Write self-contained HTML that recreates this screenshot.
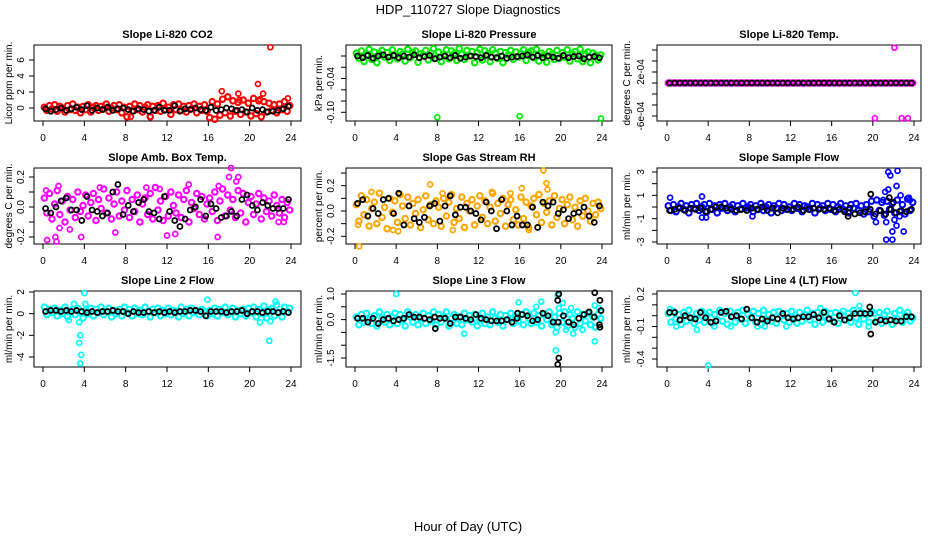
<!DOCTYPE html>
<html><head><meta charset="utf-8"><style>
html,body{margin:0;padding:0;background:#fff;}
svg{display:block;font-family:"Liberation Sans",sans-serif;}
</style></head><body>
<svg id="chart" width="936" height="540" viewBox="0 0 936 540">
<text x="468" y="14" text-anchor="middle" font-size="13">HDP_110727  Slope Diagnostics</text>
<text x="468" y="531" text-anchor="middle" font-size="13">Hour of Day (UTC)</text>
</svg>
<script>
// ---- data ----
const xTicks=[0,4,8,12,16,20,24];
const p1Color=[0.1,-0.3,0.3,-0.1,0.4,-0.4,0.2,0,-0.5,0.3,-0.2,0.5,-0.3,0.1,-0.6,0.2,
-0.2,0.4,-0.5,0.1,0.3,-0.3,0.2,-0.1,0.5,-0.4,0,0.3,-0.2,0.4,-0.6,0.1,
-1.1,0.2,-0.4,0.5,-0.2,0.3,-0.5,0.1,0.4,-1.1,0.2,-0.3,0.3,-0.4,0.6,-0.2,
0.1,-0.8,0.4,-0.2,0.5,-0.3,0.2,-0.5,0.3,-0.1,0.5,-0.6,0.2,-0.3,0.4,-0.4,
-1.2,0.8,-1.4,0.5,-0.9,1.1,-0.6,1.4,-1.0,0.9,-0.4,0.7,-0.8,1.0,-0.5,0.6,
-1.0,1.2,-0.7,0.9,-1.1,0.8,-0.5,0.6,-0.3,0.4,-0.6,0.5,-0.2,0.8,-0.4,0.3];
const p1Black=[-0.1,-0.4,-0.2,0,-0.3,-0.1,0.1,-0.2,0.3,-0.3,0,-0.2,0.1,-0.3,-0.1,0,-0.2,-0.4,-0.1,-0.2,-0.4,-0.3,0.1,-0.3,-0.3,0.3,-0.4,-0.1,-0.2,0,-0.2,-0.3,0.1,-0.3,-0.2,0,-0.1,-0.3,-0.2,-0.5,0,-0.3,-0.2,-0.5,-0.4,-0.3,-0.1,0.2];
const p1OutX=[17.3,17.9,18.9,19.0,20.8,21.0,21.3,22.0,23.7,8.5,10.4];
const p1OutY=[2.1,1.4,1.8,1.0,3.0,1.1,1.8,7.6,1.2,-1.1,-1.1];

const p2Color=[0.005,-0.004,0.009,-0.010,0.002,0.012,-0.006,0.007,-0.012,0.004,0.010,-0.002,0.006,-0.008,0.011,0.001,
-0.005,0.008,0.003,-0.009,0.012,-0.003,0.006,0.009,-0.011,0.004,0.001,0.010,-0.007,0.005,0.013,-0.004,
0.007,-0.010,0.002,0.011,-0.005,0.009,0.004,-0.008,0.013,0.003,-0.006,0.010,0.000,0.008,-0.012,0.006,
0.012,-0.007,0.009,0.003,-0.010,0.011,0.005,-0.004,0.008,-0.012,0.006,0.002,0.010,-0.006,0.007,-0.002,
0.004,0.011,-0.008,0.006,0.009,-0.003,0.012,-0.009,0.005,0.002,-0.011,0.008,0.003,-0.006,0.010,-0.004,
0.006,-0.002,0.011,-0.009,0.004,0.008,-0.005,0.012,-0.010,0.003,0.007,-0.012,0.005,0.001,-0.007,0.002];
const p2Black=[0.000,-0.003,0.001,-0.004,0.000,0.002,-0.002,0.001,-0.003,0.000,-0.002,0.002,-0.003,-0.001,0.001,-0.005,-0.002,0.000,-0.003,0.001,-0.004,-0.002,0.000,-0.001,-0.003,0.001,-0.002,-0.003,0.000,-0.004,-0.002,-0.001,0.000,0.002,-0.002,0.001,-0.003,0.000,-0.002,-0.004,0.001,-0.003,-0.001,0.000,-0.005,-0.002,-0.001,-0.003];
const p2OutX=[8.0,16.0,23.9];
const p2OutY=[-0.109,-0.107,-0.111];

const p3Color=[0,0,0,0,0,0,0,0,0,0,0,0,0,0,0,0,0,0,0,0,0,0,0,0,0,0,0,0,0,0,0,0,0,0,0,0,0,0,0,0,0,0,0,0,0,0,0,0,
0,0,0,0,0,0,0,0,0,0,0,0,0,0,0,0,0,0,0,0,0,0,0,0,0,0,0,0,0,0,0,0,0,0,0,0,0,0,0,0,0,0,0,0,0,0,0,0];
const p3Black=[0,0,0,0,0,0,0,0,0,0,0,0,0,0,0,0,0,0,0,0,0,0,0,0,0,0,0,0,0,0,0,0,0,0,0,0,0,0,0,0,0,0,0,0,0,0,0,0];
const p3OutX=[22.1,20.2,22.8,23.4];
const p3OutY=[0.00064,-0.00064,-0.00064,-0.00064];

const p4Color=[0.06,-0.04,0.09,-0.08,0.02,0.11,-0.05,0.04,-0.10,0.07,-0.02,0.05,-0.07,0.10,-0.03,0.01,
0.08,-0.06,0.03,0.09,-0.09,0.05,-0.01,0.12,-0.04,0.06,-0.08,0.02,0.10,-0.06,0.04,-0.02,
0.11,-0.07,0.05,-0.03,0.08,-0.10,0.02,0.06,-0.05,0.09,-0.08,0.13,-0.02,0.04,-0.09,0.07,
-0.06,0.10,0.01,-0.04,0.08,-0.07,0.05,0.11,-0.10,0.03,-0.01,0.09,-0.05,0.07,-0.08,0.02,
0.06,-0.03,0.10,-0.09,0.04,0.12,-0.06,0.08,-0.02,0.05,-0.07,0.11,-0.04,0.09,-0.10,0.03,
0.07,-0.05,0.02,0.09,-0.08,0.06,-0.03,0.04,-0.06,0.08,0.01,-0.04,0.05,-0.07,0.03,-0.02];
const p4Black=[-0.01,-0.04,0.00,0.04,0.06,-0.02,-0.02,-0.09,0.07,-0.02,-0.03,-0.06,-0.04,0.10,0.15,-0.05,0.01,-0.03,0.03,0.05,-0.03,-0.04,-0.08,0.07,-0.03,-0.09,-0.13,-0.08,-0.02,0.00,0.05,-0.06,0.02,-0.01,-0.07,-0.06,-0.03,-0.06,0.05,0.08,0.01,-0.02,0.03,0.01,-0.01,-0.01,-0.01,0.05];
const p4OutX=[0.4,1.3,1.6,1.2,0.3,2.6,3.7,1.5,5.5,7.0,11.3,12.0,12.8,16.9,17.0,18.0,18.2,18.7,18.9,22.8,10.0,14.1,23.3];
const p4OutY=[-0.22,-0.23,-0.14,-0.20,0.11,-0.15,-0.20,0.14,0.13,-0.17,0.12,-0.19,-0.18,-0.20,0.14,0.20,0.26,0.17,0.20,-0.10,0.13,0.15,-0.10];

const p5Color=[0.05,-0.08,0.12,-0.03,0.09,-0.12,0.02,0.07,-0.10,0.14,-0.05,0.03,-0.14,0.10,-0.01,0.08,
-0.09,0.13,0.04,-0.06,0.11,-0.11,0.06,-0.02,0.09,-0.13,0.01,0.12,-0.07,0.05,-0.10,0.08,
0.03,-0.12,0.10,-0.04,0.07,0.13,-0.09,0.02,-0.06,0.11,-0.13,0.06,0.00,0.09,-0.11,0.04,
0.12,-0.05,0.08,-0.10,0.03,0.14,-0.08,0.06,-0.02,0.10,-0.12,0.05,0.09,-0.07,0.01,-0.11,
0.11,-0.06,0.07,-0.13,0.04,0.10,-0.03,0.13,-0.09,0.06,-0.01,0.08,-0.11,0.12,-0.05,0.02,
0.09,-0.10,0.05,0.11,-0.07,0.03,-0.12,0.08,-0.04,0.10,0.00,-0.08,0.06,-0.03,0.07,0.02];
const p5Black=[0.06,0.09,-0.04,0.02,-0.02,0.09,0.10,-0.02,0.14,-0.11,0.04,-0.06,-0.09,-0.05,0.04,0.06,-0.08,0.04,0.12,-0.03,0.03,0.03,0.00,-0.02,-0.07,0.07,0.00,-0.14,0.09,0.00,-0.11,-0.04,-0.11,-0.11,0.03,-0.13,0.07,0.04,0.07,-0.02,0.01,-0.06,-0.02,-0.01,0.03,-0.04,-0.09,0.04];
const p5OutX=[0.4,0.3,1.6,3.7,4.2,7.3,8.5,9.5,16.2,16.9,18.3,18.6,18.7,13.3,15.1];
const p5OutY=[-0.28,-0.11,0.15,-0.15,-0.16,0.21,0.14,-0.15,0.18,-0.15,0.32,0.22,0.17,0.15,0.14];

const p6Color=[0.1,-0.3,0.2,-0.4,0,0.3,-0.2,0.1,-0.5,0.2,-0.1,0.3,-0.3,0,0.2,-0.4,
0.3,-0.2,0.1,-0.5,0.2,-0.1,0.3,-0.3,0,0.2,-0.4,0.1,-0.2,0.3,-0.1,0,
0.2,-0.4,0.1,-0.2,0.3,-0.3,0,0.2,-0.5,0.1,-0.1,0.3,-0.3,0.2,-0.2,0,
-0.3,0.3,-0.1,0.2,-0.4,0.1,0,-0.2,0.3,-0.5,0.2,-0.1,0.1,-0.3,0.3,-0.2,
0.2,-0.4,0,0.3,-0.2,0.1,-0.5,0.2,-0.1,0.3,-0.3,0.1,-0.6,0.2,-0.4,0.5,
-0.8,0.6,-0.3,0.4,-0.7,0.5,-0.2,0.3,-0.5,0.6,-0.4,0.2,-0.6,0.7,-0.3,0.4];
const p6Black=[-0.3,-0.2,-0.1,-0.3,-0.1,-0.2,-0.1,-0.4,-0.2,0,0,-0.1,-0.2,-0.3,-0.2,-0.3,-0.1,-0.2,0,-0.3,-0.1,-0.5,-0.1,-0.2,-0.2,0,-0.3,-0.2,-0.1,-0.2,-0.2,-0.1,-0.3,-0.2,-0.4,-0.1,-0.6,-0.5,-0.4,-0.2,-0.6,-0.3,-0.6,-0.2,-0.5,-0.3,-0.4,-0.2];
const p6OutX=[21.5,21.7,22.4,21.5,22.3,21.2,22.7,20.3,21.3,21.3,21.9,21.9,22.3,23.0,22.1,22.6,23.5,23.6,0.3,3.4,3.4,3.8,8.3,21.0];
const p6OutY=[3.0,2.7,3.1,1.5,1.8,1.3,1.0,-1.3,-1.3,-2.8,-2.8,-2.1,-1.6,-2.1,-1.1,-0.8,0.8,0.6,0.8,0.9,-0.9,-0.9,-0.8,0.6];
const p6BOutX=[19.8,21.6,22.0,17.6];
const p6BOutY=[1.1,0.8,0.4,-0.8];

const p7Color=[0.6,-0.1,0.4,0.1,0.5,-0.2,0.3,0,0.6,-0.3,0.2,0.4,-0.1,0.5,0.1,-0.4,
0.3,0,0.5,-0.2,0.4,0.1,0.6,-0.1,0.2,0.5,-0.3,0.3,0,0.4,-0.2,0.6,
0.1,0.4,-0.2,0.5,0,0.3,-0.1,0.6,0.2,-0.3,0.4,0.1,0.5,-0.2,0.3,0,
0.5,-0.1,0.3,0.2,-0.3,0.6,0,0.4,-0.2,0.5,0.1,0.3,-0.1,0.4,0.2,-0.2,
0.3,0,0.5,-0.2,0.4,0.1,0.6,-0.1,0.2,0.5,-0.3,0.3,0,0.4,-0.2,0.5,
0.1,0.6,-0.3,0.4,0,0.7,-0.4,0.3,0.5,-0.2,0.8,0.1,-0.3,0.6,0.2,0.5];
const p7Black=[0.2,0.3,0.3,0.2,0.3,0.2,0.3,0.2,0.1,0.2,0.1,0.2,0.2,0.3,0.2,0.2,0.0,0.2,0.1,0.1,0.2,0.1,0.2,0.1,0.2,0.1,0.2,0.2,0.3,0.3,0.2,-0.2,0.2,0.2,0.2,0.1,0.2,0.2,0.3,0.0,0.2,0.2,0.1,0.2,0.2,0.1,0.2,0.1];
const p7OutX=[3.5,3.6,3.6,3.7,4.0,4.1,3.5,3.0,2.5,15.9,21.0,21.9,22.5,22.0];
const p7OutY=[-2.7,-2.0,-4.6,-3.8,1.9,0.9,-0.8,0.9,-0.6,1.3,-0.8,-2.5,1.1,-0.7];

const p8Color=[0.1,-0.2,0.2,-0.1,0.25,0,-0.15,0.15,-0.25,0.3,0.05,-0.1,0.2,-0.2,0.1,0.25,
-0.15,0.2,0,-0.25,0.3,0.1,-0.1,0.2,-0.2,0.05,0.25,-0.15,0.15,-0.05,0.3,-0.2,
0.2,-0.1,0.1,0.3,-0.25,0.05,0.2,-0.15,0.1,-0.2,0.25,0,0.15,-0.1,0.2,-0.25,
0,0.25,-0.15,0.1,-0.2,0.3,0.05,-0.1,0.2,-0.25,0.15,0,0.25,-0.15,0.1,-0.05,
0.2,-0.2,0.3,0.05,-0.15,0.25,-0.1,0.15,-0.25,0.2,0,0.3,-0.2,0.1,-0.3,0.25,
-0.1,0.3,-0.25,0.2,0.05,-0.3,0.3,-0.15,0.2,-0.05,0.25,-0.2,0.1,-0.3,0.2,0.05];
const p8Black=[0.05,0.05,-0.1,0.05,-0.15,0,0.05,-0.05,0,0.05,0.2,0.1,0.1,0.05,0,0.1,0.05,0.05,-0.15,0.1,0.1,0.05,0,0.2,0.05,0,-0.05,-0.05,-0.05,0,-0.1,0.05,0.2,0.15,-0.05,0,0.25,0.15,-0.1,-0.1,0.15,-0.1,-0.2,0.05,0.2,0.3,0.1,-0.2];
const p8OutX=[4.0,10.6,15.9,17.6,18.1,19.5,19.5,19.7,19.8,20.2,21.2,21.0,23.3,23.3,23.7,22.1,20.5];
const p8OutY=[1.0,-0.55,0.67,0.5,0.7,-0.5,-1.2,0.95,0.45,0.65,-0.55,0.45,0.55,-0.85,0.45,-0.4,-0.4];
const p8BOutX=[7.8,15.8,19.8,19.7,19.8,19.7,23.3,23.8,23.9,23.8];
const p8BOutY=[-0.35,0.25,1.0,0.75,-1.5,-1.75,1.05,0.75,0.35,-0.3];

const p9Color=[0.02,-0.06,0.04,-0.03,0.01,-0.08,0.03,-0.05,0.05,-0.02,-0.07,0.02,-0.04,0.04,-0.06,0.00,
0.03,-0.07,0.01,-0.04,0.05,-0.05,0.02,-0.08,0.04,-0.01,-0.06,0.03,-0.03,0.05,-0.07,0.01,
-0.02,0.04,-0.06,0.02,-0.08,0.05,-0.03,0.01,-0.05,0.03,-0.07,0.04,0.00,-0.04,0.02,-0.06,
0.04,-0.02,-0.07,0.03,-0.05,0.01,0.05,-0.04,0.02,-0.08,0.03,-0.01,-0.06,0.04,-0.03,0.02,
-0.05,0.03,-0.07,0.01,0.04,-0.04,0.02,-0.06,0.05,-0.02,-0.08,0.03,-0.03,0.01,-0.06,0.04,
0.02,-0.05,0.03,-0.07,0.01,0.04,-0.04,-0.08,0.02,-0.03,0.05,-0.06,0.00,0.03,-0.05,-0.02];
const p9Black=[0.03,0.03,-0.04,0.00,-0.02,-0.03,0.03,-0.02,-0.06,-0.05,0.03,0.04,-0.01,0.00,-0.03,0.06,-0.02,-0.06,-0.03,-0.05,-0.02,-0.03,0.02,-0.02,-0.03,-0.02,-0.01,-0.01,0.01,-0.02,0.03,-0.03,-0.06,0.00,-0.04,-0.02,0.02,0.02,0.02,0.02,-0.06,-0.04,-0.05,-0.04,-0.05,-0.05,-0.01,-0.01];
const p9OutX=[0.3,0.9,2.9,4.0,4.6,6.2,8.8,9.5,11.6,14.9,18.3,18.7,19.6];
const p9OutY=[0.06,-0.1,-0.13,-0.46,-0.1,-0.1,-0.1,-0.1,-0.1,0.07,0.21,0.09,-0.1];
const p9BOutX=[19.7,19.8];
const p9BOutY=[0.08,-0.17];

// ---- layout ----
const NS="http://www.w3.org/2000/svg";
const svg=document.getElementById('chart');
const cols=[{l:34,r:301,x0:43,x24:291,lab:12,tl:24},{l:346,r:612,x0:355,x24:602,lab:322,tl:334},{l:657,r:921,x0:667,x24:914,lab:630,tl:644}];
const rows=[{t:45,b:121},{t:168,b:244},{t:291,b:367}];
const panels=[
 {name:'co2',title:'Slope Li-820 CO2',ylab:'Licor ppm per min.',col:'#ff0000',c:0,r:0,v0:0,p0:108,v1:6,p1:60,ticks:[0,2,4,6],labels:['0','2','4','6'],cy:p1Color,by:p1Black,ox:p1OutX,oy:p1OutY},
 {name:'pressure',title:'Slope Li-820 Pressure',ylab:'kPa per min.',col:'#00ee00',c:1,r:0,v0:0,p0:56,v1:-0.10,p1:112.3,ticks:[0,-0.02,-0.04,-0.06,-0.08,-0.10],labels:['','','-0.04','','','-0.10'],cy:p2Color,by:p2Black,ox:p2OutX,oy:p2OutY},
 {name:'temp',title:'Slope Li-820 Temp.',ylab:'degrees C per min.',col:'#ff00ff',c:2,r:0,v0:0,p0:83,v1:0.0002,p1:72,ticks:[0.0006,0.0004,0.0002,0,-0.0002,-0.0004,-0.0006],labels:['','','2e-04','','','','-6e-04'],cy:p3Color,by:p3Black,ox:p3OutX,oy:p3OutY},
 {name:'amb-box-temp',title:'Slope Amb. Box Temp.',ylab:'degrees C per min.',col:'#ff00ff',c:0,r:1,v0:0,p0:207,v1:0.2,p1:177,ticks:[0.2,0.1,0,-0.1,-0.2],labels:['0.2','','0.0','','-0.2'],cy:p4Color,by:p4Black,ox:p4OutX,oy:p4OutY},
 {name:'gas-stream-rh',title:'Slope Gas Stream RH',ylab:'percent per min.',col:'#ffa500',c:1,r:1,v0:0,p0:211,v1:0.2,p1:185.7,ticks:[0.3,0.2,0.1,0,-0.1,-0.2],labels:['','0.2','','0.0','','-0.2'],cy:p5Color,by:p5Black,ox:p5OutX,oy:p5OutY},
 {name:'sample-flow',title:'Slope Sample Flow',ylab:'ml/min per min.',col:'#0000ff',c:2,r:1,v0:3,p0:172,v1:-3,p1:242,ticks:[3,2,1,0,-1,-2,-3],labels:['3','','1','','-1','','-3'],cy:p6Color,by:p6Black,ox:p6OutX,oy:p6OutY,bx2:p6BOutX,by2:p6BOutY},
 {name:'line2-flow',title:'Slope Line 2 Flow',ylab:'ml/min per min.',col:'#00ffff',c:0,r:2,v0:2,p0:292,v1:-4,p1:357,ticks:[2,0,-2,-4],labels:['2','0','-2','-4'],cy:p7Color,by:p7Black,ox:p7OutX,oy:p7OutY},
 {name:'line3-flow',title:'Slope Line 3 Flow',ylab:'ml/min per min.',col:'#00ffff',c:1,r:2,v0:1,p0:294,v1:-1.5,p1:358,ticks:[1,0.5,0,-0.5,-1,-1.5],labels:['1.0','','0.0','','','-1.5'],cy:p8Color,by:p8Black,ox:p8OutX,oy:p8OutY,bx2:p8BOutX,by2:p8BOutY},
 {name:'line4-flow',title:'Slope Line 4 (LT) Flow',ylab:'ml/min per min.',col:'#00ffff',c:2,r:2,v0:0.2,p0:294,v1:-0.4,p1:359,ticks:[0.2,0.1,0,-0.1,-0.2,-0.3,-0.4],labels:['0.2','','','-0.1','','','-0.4'],cy:p9Color,by:p9Black,ox:p9OutX,oy:p9OutY,bx2:p9BOutX,by2:p9BOutY}
];
function mk(tag,attrs,parent){const e=document.createElementNS(NS,tag);for(const k in attrs)e.setAttribute(k,attrs[k]);(parent||svg).appendChild(e);return e;}
panels.forEach(p=>{
  const C=cols[p.c],R=rows[p.r];
  const g=mk('g',{});
  
  
  const xs=h=>C.x0+(C.x24-C.x0)*h/24;
  const ys=v=>p.p0+(p.p1-p.p0)*(v-p.v0)/(p.v1-p.v0);
  const box=mk('rect',{x:C.l,y:R.t,width:C.r-C.l,height:R.b-R.t,fill:'none',stroke:'#000','stroke-width':1},g);
  
  
  const t=mk('text',{x:(C.l+C.r)/2,y:R.t-7,'text-anchor':'middle','font-size':11,'font-weight':'bold'},g);
  t.textContent=p.title;
  
  
  const yl=mk('text',{transform:`translate(${C.lab},${(R.t+R.b)/2}) rotate(-90)`,'text-anchor':'middle','font-size':10},g);
  yl.textContent=p.ylab;
  
  
  xTicks.forEach(h=>{
    const x=xs(h);
    const tk=mk('line',{x1:x,x2:x,y1:R.b,y2:R.b+5,stroke:'#000'},g);
    
    
    const tl=mk('text',{x:x,y:R.b+20,'text-anchor':'middle','font-size':10},g);
    tl.textContent=h;
    
    
  });
  p.ticks.forEach((v,i)=>{
    const y=ys(v);
    const tk=mk('line',{x1:C.l-5,x2:C.l,y1:y,y2:y,stroke:'#000'},g);
    
    
    if(p.labels[i]){
      const tl=mk('text',{transform:`translate(${C.tl},${y}) rotate(-90)`,'text-anchor':'middle','font-size':10},g);
      tl.textContent=p.labels[i];
      
      
    }
  });
  function pt(h,v,col,nm,r,sw){
    const c=mk('circle',{cx:xs(h),cy:ys(v),r:r,fill:'none',stroke:col,'stroke-width':sw},g);
    
    
  }
  p.cy.forEach((v,i)=>pt(0.125+i*24/p.cy.length,v,p.col,'point-slope',2.7,2.1));
  p.ox.forEach((h,i)=>pt(h,p.oy[i],p.col,'point-slope-outlier',2.5,1.7));
  p.by.forEach((v,i)=>pt(0.25+i*24/p.by.length,v,'#000','point-hourly',2.5,1.8));
  if(p.bx2)p.bx2.forEach((h,i)=>pt(h,p.by2[i],'#000','point-hourly-outlier',2.5,1.8));
});
</script>
</body></html>
